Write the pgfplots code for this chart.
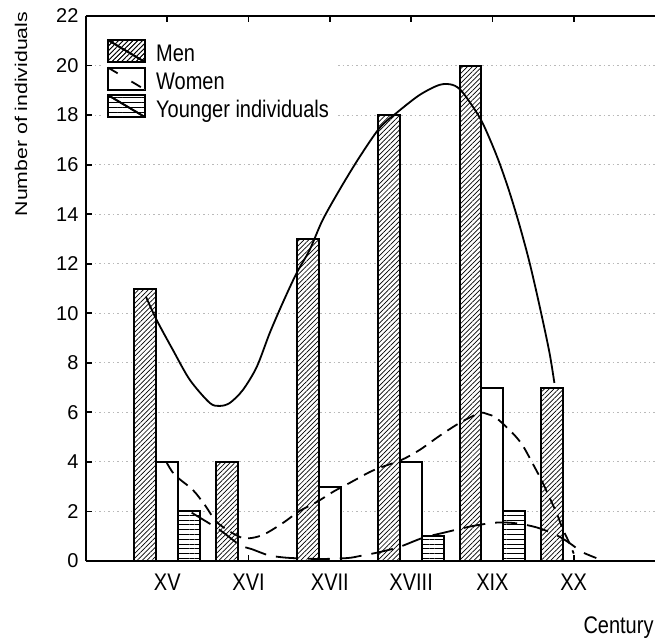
\documentclass[border=0pt]{standalone}
\usepackage{fontspec}
\setmainfont{Liberation Sans}
\usepackage{pgfplots}
\pgfplotsset{compat=1.18}
\usetikzlibrary{patterns.meta}

\tikzset{
  menhatch/.style={fill=white, postaction={pattern={Lines[angle=45,distance=3.4pt,line width=0.7pt]}}},
  younghatch/.style={fill=white, postaction={pattern={Lines[angle=0,distance=4.8pt,line width=0.9pt]}}},
}
\newcommand{\vs}[1]{\scalebox{1}[1.2]{#1}}
% reserve room for the legend icon without drawing anything
\newcommand{\iconroom}{\pgfpathrectangle{\pgfpoint{0pt}{-9pt}}{\pgfpoint{46pt}{24pt}}\pgfusepath{use as bounding box}}

\begin{document}
\begin{tikzpicture}
\useasboundingbox (-86pt,-79pt) rectangle (569pt,561pt);
\begin{axis}[
  scale only axis, width=569pt, height=545pt,
  xmin=0, xmax=7, ymin=0, ymax=22,
  axis x line*=box, axis y line*=left,
  xtick={1,...,6},
  xticklabels={\vs{XV},\vs{XVI},\vs{XVII},\vs{XVIII},\vs{XIX},\vs{XX}},
  ytick={0,2,...,22},
  tick align=inside, major tick length=6pt,
  axis line style={line width=2pt},
  tick style={black, line width=1.8pt},
  ymajorgrids,
  grid style={gray!55, line width=1pt, dash pattern=on 1.5pt off 3pt},
  /pgf/number format/assume math mode=true,
  tick label style={font=\fontsize{20}{24}\selectfont},
  yticklabel style={xshift=-4pt},
  xticklabel style={yshift=-9pt},
  ylabel={\scalebox{1.25}[1]{Number of individuals}},
  ylabel style={at={(axis description cs:-0.114,0.82)}, anchor=center, font=\fontsize{17}{20}\selectfont},
  xlabel={\vs{Century}},
  xlabel style={at={(axis description cs:0.874,0)}, anchor=north west, inner sep=0pt, yshift=-56pt, font=\fontsize{20}{24}\selectfont},
  legend style={at={(axis description cs:0,1)}, anchor=north west, xshift=15pt, yshift=-20pt,
    draw=none, fill=white, inner xsep=7pt, inner ysep=3pt,
    font=\fontsize{20}{24}\selectfont, row sep=3pt,
    nodes={inner ysep=0.5pt, inner xsep=2pt}},
  legend cell align=left,
]

% bars
\addplot[ybar, bar width=0.27, bar shift=-0.27, draw=black, line width=2pt, menhatch,
  legend image code/.code={
    \iconroom
    \draw[menhatch, line width=1.8pt] (0pt,-8pt) rectangle (37pt,14pt);
    \draw[line width=1.8pt] (0pt,14pt) -- (37pt,-8pt);}]
  coordinates {(1,11) (2,4) (3,13) (4,18) (5,20) (6,7)};
\addlegendentry{\vs{Men}}

\addplot[ybar, bar width=0.27, bar shift=0, draw=black, line width=2pt, fill=white,
  legend image code/.code={
    \iconroom
    \draw[fill=white, line width=1.8pt] (0pt,-8pt) rectangle (37pt,14pt);
    \draw[line width=1.8pt, dash pattern=on 11pt off 16pt] (0pt,14pt) -- (37pt,-8pt);}]
  coordinates {(1,4) (3,3) (4,4) (5,7)};
\addlegendentry{\vs{Women}}

\addplot[ybar, bar width=0.27, bar shift=0.27, draw=black, line width=2pt, younghatch,
  legend image code/.code={
    \iconroom
    \draw[younghatch, line width=1.8pt] (0pt,-8pt) rectangle (37pt,14pt);
    \draw[line width=1.8pt] (0pt,14pt) -- (37pt,-8pt);}]
  coordinates {(1,2) (4,1) (5,2)};
\addlegendentry{\vs{Younger individuals}}

% fitted curves
\addplot[smooth, line width=1.8pt, forget plot] coordinates {
  (0.737,10.67) (0.869,9.73) (1.069,8.52) (1.278,7.31) (1.523,6.38) (1.646,6.26)
  (1.769,6.38) (1.929,6.90) (2.100,7.83) (2.260,9.20) (2.420,10.42) (2.592,11.63)
  (2.752,12.56) (2.912,13.77) (3.140,15.10) (3.366,16.31) (3.612,17.48) (3.821,18.09)
  (4.103,18.81) (4.349,19.22) (4.509,19.22) (4.631,18.93) (4.840,17.92) (4.963,17.07)
  (5.086,16.07) (5.209,14.90) (5.332,13.57) (5.455,12.07) (5.577,10.34) (5.700,8.44)
  (5.762,7.19)};

\addplot[smooth, line width=1.8pt, dash pattern=on 12pt off 7pt, forget plot] coordinates {
  (0.995,3.96) (1.093,3.47) (1.314,2.87) (1.462,2.26) (1.622,1.53) (1.892,0.97)
  (2.039,0.93) (2.199,1.09) (2.420,1.53) (2.629,2.02) (2.838,2.38) (3.059,2.83)
  (3.243,3.15) (3.489,3.59) (3.636,3.79) (3.882,4.08) (4.103,4.48) (4.349,5.05)
  (4.595,5.57) (4.840,5.97) (4.939,5.93) (5.049,5.77) (5.246,5.17) (5.369,4.68)
  (5.491,3.96) (5.602,3.27) (5.700,2.58) (5.799,1.86) (5.860,1.33) (5.946,0.73)
  (6.000,0.30)};

\addplot[smooth, line width=1.8pt, dash pattern=on 22pt off 10pt, forget plot] coordinates {
  (1.300,1.95) (1.646,1.25) (1.892,0.65) (2.039,0.48) (2.236,0.24) (2.383,0.16)
  (2.531,0.12) (2.875,0.08) (3.219,0.12) (3.366,0.20) (3.612,0.36) (3.857,0.57)
  (4.140,0.93) (4.386,1.13) (4.754,1.41) (5.050,1.55) (5.300,1.52) (5.550,1.35)
  (5.786,1.05) (5.946,0.73) (6.106,0.36) (6.278,0.12)};

\end{axis}
\end{tikzpicture}
\end{document}
